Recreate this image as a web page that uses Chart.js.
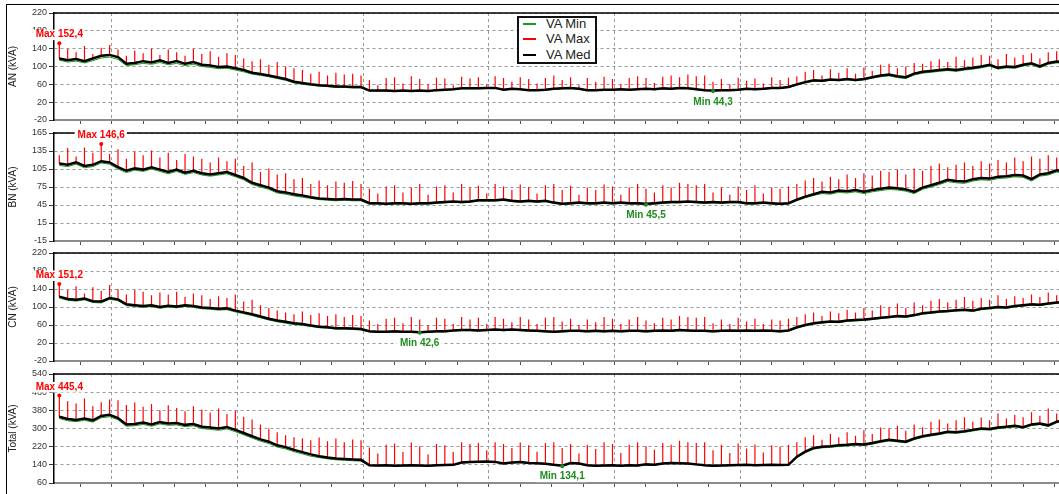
<!DOCTYPE html>
<html>
<head>
<meta charset="utf-8">
<title>VA AN / BN / CN / Total</title>
<script src="https://cdn.jsdelivr.net/npm/chart.js@4.4.1/dist/chart.umd.min.js"></script>
<style>
  html, body { margin: 0; padding: 0; background: #fff; overflow: hidden; }
  #wrap { position: relative; width: 1059px; height: 494px; overflow: hidden; background: #fff; }
  #frame { position: absolute; left: 6px; top: 4px; width: 1200px; height: 700px; border: 1px solid #000; }
  canvas.panel { position: absolute; left: 0; top: 0; }
  #legend { position: absolute; left: 517px; top: 16px; width: 80px; height: 48px; box-sizing: border-box;
            border: 2px solid #111; background: #fff; font: 13px "Liberation Sans", Arial, sans-serif; color: #222; }
  #legend .row { position: absolute; left: 0; height: 14px; line-height: 14px; white-space: nowrap; }
  #legend .row i { position: absolute; left: 4px; top: 6px; width: 13px; height: 2px; }
  #legend .row span { position: absolute; left: 27px; top: 0; }
</style>
</head>
<body>
<div id="wrap">
  <div id="frame"></div>
  <canvas class="panel" id="pAN" width="1068" height="494"></canvas>
  <canvas class="panel" id="pBN" width="1068" height="494"></canvas>
  <canvas class="panel" id="pCN" width="1068" height="494"></canvas>
  <canvas class="panel" id="pTot" width="1068" height="494"></canvas>
  <div id="legend">
    <div class="row" style="top:-1px"><i style="background:#14a014"></i><span>VA Min</span></div>
    <div class="row" style="top:14px"><i style="background:#ff0000"></i><span>VA Max</span></div>
    <div class="row" style="top:30px"><i style="background:#000"></i><span>VA Med</span></div>
  </div>
</div>
<script>
// Logger clock: first reading at 19:10, one reading every 8 minutes (minutes relative to midnight)
const firstSampleMin = -290;
const sampleStepMin = 8;

// Axis tick labels
const anTicks = [-20, 20, 60, 100, 140, 180, 220];
const bnTicks = [-15, 15, 45, 75, 105, 135, 165];
const cnTicks = [-20, 20, 60, 100, 140, 180, 220];
const totalTicks = [60, 140, 220, 300, 380, 460, 540];
const hourTicks = [20, 22, 0, 2, 4, 6, 8, 10];

// Phase AN (kVA)
const anMed = [118,114,117,112,118,124,126,121,106,108,112,109,114,108,112,106,110,104,102,99,100,96,92,86,83,80,76,72,66,63,60,58,57,55,55,54,54,
  46,46,46,45,46,45,46,45,47,48,49,51,51,51,52,52,48,50,49,47,47,48,50,51,52,50,47,47,48,48,49,48,49,50,49,51,50,52,51,49,47,46,47,47,48,50,49,50,52,52,54,
  60,65,69,68,71,70,72,70,72,76,80,82,78,76,84,88,90,92,94,92,95,97,100,104,97,100,99,104,107,100,108,111,110];
const anMin = [114,110,112,108,113,119,121,116,102,104,107,105,109,104,107,102,105,100,98,95,96,92,88,83,80,77,73,69,63,60,58,56,55,53,53,52,52,
  45,45,44.8,44.6,45,44.5,45,44.6,46,47,48,50,50,50,51,51,47,49,48,46,46,47,49,50,51,49,46,46,47,47,48,47,48,49,48,50,49,51,50,48,46,44.3,46,46,47,49,48,49,51,51,53,
  58,63,67,66,69,68,70,68,70,74,77,79,75,73,81,85,87,89,91,89,92,94,97,101,94,97,96,101,104,97,105,108,107];
const anMax = [152.4,140,132,146,128,142,148,138,124,136,130,140,126,138,132,124,140,128,134,122,130,126,118,112,116,104,110,100,96,92,84,88,80,86,82,84,80,
  70,58,74,76,62,78,72,60,75,73,58,77,73,76,60,78,74,66,76,72,62,74,80,70,76,58,74,66,77,72,60,74,78,74,63,77,80,76,82,78,80,66,72,60,75,68,73,62,76,70,75,
  78,88,92,80,94,86,96,84,98,90,104,106,96,100,108,106,112,116,110,122,114,120,126,124,116,128,120,126,130,118,132,134,128];

// Phase BN (kVA)
const bnMed = [114,112,116,110,112,118,116,108,102,106,104,108,104,100,104,99,102,98,96,98,100,95,90,82,78,74,68,66,63,61,58,56,55,54,55,54,54,
  48,48,47,48,48,47,48,48,49,50,51,50,51,53,53,53,54,52,51,52,51,52,49,47,48,49,48,48,49,48,49,48,48,47,48,49,50,50,51,50,49,50,49,50,50,48,48,49,48,47,48,
  54,59,63,67,66,69,68,70,67,70,72,74,73,71,67,74,78,82,87,85,84,88,90,89,92,93,95,94,88,96,98,103,101];
const bnMin = [111,109,113,107,109,115,113,105,99,103,101,105,101,97,101,96,99,95,93,95,97,92,87,79,75,71,65,63,60,58,56,54,53,52,53,52,52,
  46.5,46.5,46,46.5,46.5,46,46.5,46.5,47.5,48.5,49.5,48.5,49.5,51.5,51.5,51.5,52.5,50.5,49.5,50.5,49.5,50.5,47.5,46,46.5,47.5,46.5,46.5,47.5,46.5,47.5,46.5,46.5,45.5,46.5,47.5,48.5,48.5,49.5,48.5,47.5,48.5,47.5,48.5,48.5,46.5,46.5,47.5,46.5,46,46.5,
  52,57,61,64,63,66,65,67,64,67,69,71,70,68,64,71,75,79,84,82,81,85,87,86,89,90,92,91,85,93,95,100,98];
const bnMax = [128,140,126,141,132,146.6,130,138,122,134,128,136,124,132,120,130,126,122,116,124,118,122,110,116,100,106,96,98,88,90,80,86,78,84,82,85,80,
  72,64,76,78,66,74,80,62,76,78,66,80,74,77,64,80,76,70,79,75,64,78,80,70,77,62,74,70,79,76,62,74,80,72,66,78,74,82,80,78,80,66,74,62,76,70,78,64,74,72,76,
  80,86,90,84,92,88,96,90,98,94,102,100,104,96,106,102,110,114,108,112,116,110,118,114,120,116,124,118,126,122,128,124,130];

// Phase CN (kVA)
const cnMed = [123,118,116,119,113,112,120,117,106,104,102,104,100,103,101,104,102,99,98,96,97,92,88,84,79,74,70,67,64,62,59,56,55,53,53,52,51,
  46,45,45,46,45,45,44,45,46,46,48,49,49,48,49,50,49,50,49,48,47,46,45,46,47,47,46,47,46,47,46,47,47,46,47,48,47,49,48,47,47,46,47,48,47,48,47,48,47,46,48,
  55,60,64,66,68,67,70,71,72,74,76,78,80,79,82,86,88,90,91,93,94,92,96,98,100,99,102,104,106,105,108,110,111];
const cnMin = [120,115,113,116,110,109,117,114,103,101,99,101,97,100,98,101,99,96,95,93,94,89,85,81,76,71,67,64,61,59,57,54,53,51,51,50,49,
  44.5,43.5,43.5,44.5,43.5,43.5,42.6,43.5,44.5,44.5,46.5,47.5,47.5,46.5,47.5,48.5,47.5,48.5,47.5,46.5,45.5,44.5,43.5,44.5,45.5,45.5,44.5,45.5,44.5,45.5,44.5,45.5,45.5,44.5,45.5,46.5,45.5,47.5,46.5,45.5,45.5,44.5,45.5,46.5,45.5,46.5,45.5,46.5,45.5,44.5,46.5,
  53,58,62,64,66,65,68,69,70,72,74,76,78,77,80,84,86,88,89,91,92,90,94,96,98,97,100,102,104,103,106,108,109];
const cnMax = [151.2,138,146,130,144,136,149,140,128,138,134,126,132,128,134,122,130,126,118,124,120,128,112,116,104,98,92,88,84,90,82,86,80,84,78,82,80,
  70,62,74,76,64,78,72,60,76,74,62,78,72,76,62,78,74,66,78,72,62,76,78,68,74,60,72,66,78,74,62,72,78,70,64,76,72,80,78,76,78,64,72,62,76,68,74,62,72,70,74,
  78,84,88,80,90,86,94,88,98,92,104,100,108,98,110,104,114,118,110,116,122,114,120,116,126,118,124,120,128,122,132,126,130];

// Total (kVA)
const totMed = [352,342,338,344,336,355,360,346,318,320,326,318,328,322,324,316,320,308,304,300,306,294,280,266,252,242,226,218,206,196,186,178,172,168,166,164,162,
  138,137,138,136,137,138,137,136,138,139,140,150,152,154,155,153,146,150,152,148,147,145,140,136,148,146,138,136,137,138,136,138,137,142,140,146,148,147,146,142,138,136,137,138,139,140,138,139,140,139,140,
  176,198,214,220,222,226,228,232,230,236,244,250,246,242,256,266,272,278,286,284,288,294,300,298,304,308,312,306,318,322,314,330,338];
const totMin = [344,334,330,336,328,347,352,338,310,312,318,310,320,314,316,308,312,300,296,292,298,286,272,258,244,234,218,210,198,188,178,172,166,162,160,158,156,
  136,135,136,134.8,135,136,135,134.6,136,137,138,148,150,152,153,151,144,148,150,146,145,143,138,134.1,146,144,136,134.5,135,136,134.7,136,135,140,138,144,146,145,144,140,136,134.6,135,136,137,138,136,137,138,137,138,
  171,193,209,215,217,221,223,227,225,231,239,245,241,237,251,261,267,273,281,279,283,289,295,293,299,303,307,301,313,317,309,325,333];
const totMax = [445.4,420,410,432,398,416,428,424,404,414,396,408,380,402,390,376,398,384,370,388,364,378,352,340,318,300,284,270,262,256,248,260,244,256,240,252,248,
  216,190,228,234,196,238,222,186,232,226,196,240,232,236,204,240,232,214,238,226,198,236,240,214,232,190,228,210,240,232,192,228,240,222,206,236,228,246,240,236,240,204,228,192,234,212,230,194,226,220,228,
  240,262,270,250,276,262,284,268,292,276,304,300,312,290,318,306,330,340,322,336,350,330,348,336,366,344,360,350,372,356,388,366,380];

const FONT = '"Liberation Sans", Arial, sans-serif';
const CANVAS_W = 1068, CANVAS_H = 494;
const PLOT_LEFT = 54, PLOT_RIGHT = 1066, X_AXIS_H = 6;
const X_MIN_HOUR = -4.918, X_MAX_HOUR = 11.182;

function sampleHour(i) { return (firstSampleMin + i * sampleStepMin) / 60; }
function isWholeHour(v) { return Math.abs(v - Math.round(v)) < 1e-6; }
function hourOfDay(v) { return ((Math.round(v) % 24) + 24) % 24; }
function isLabelledHour(v) { return isWholeHour(v) && hourTicks.includes(hourOfDay(v)); }
function fmtComma(v) { return v.toFixed(1).replace('.', ','); }

// Max trace: each reading is a vertical stroke from the median level up to the maximum
function maxTrace(med, max) {
  const pts = [];
  med.forEach((m, i) => {
    const t = sampleHour(i);
    pts.push({ x: t, y: m }, { x: t, y: max[i] }, { x: t, y: m });
  });
  return pts;
}
function lineTrace(arr) { return arr.map((v, i) => ({ x: sampleHour(i), y: v })); }

// Panel frame top edge plus the labelled extreme readings
const extremesPlugin = {
  id: 'extremes',
  afterDatasetsDraw(chart, args, opts) {
    const ctx = chart.ctx, a = chart.chartArea;
    const xs = chart.scales.x, ys = chart.scales.y;
    ctx.save();
    ctx.strokeStyle = '#000';
    ctx.lineWidth = 1.5;
    ctx.beginPath();
    ctx.moveTo(a.left, a.top);
    ctx.lineTo(a.right + 4, a.top);
    ctx.stroke();

    ctx.font = 'bold 10px ' + FONT;
    ctx.textAlign = 'center';
    ctx.textBaseline = 'middle';
    const marks = [
      { arr: opts.max, high: true, color: '#ff0000', prefix: 'Max ', dy: -8.5 },
      { arr: opts.min, high: false, color: '#1e8c1e', prefix: 'Min ', dy: 10.5 }
    ];
    marks.forEach(m => {
      let k = 0;
      m.arr.forEach((v, i) => { if (m.high ? v > m.arr[k] : v < m.arr[k]) k = i; });
      const px = xs.getPixelForValue(sampleHour(k));
      const py = ys.getPixelForValue(m.arr[k]);
      const txt = m.prefix + fmtComma(m.arr[k]);
      const w = ctx.measureText(txt).width;
      ctx.fillStyle = '#fff';
      ctx.fillRect(px - w / 2 - 3, py + m.dy - 5, w + 5, 10.5);
      ctx.fillStyle = m.color;
      ctx.fillText(txt, px, py + m.dy);
      ctx.beginPath();
      ctx.arc(px, py, 2, 0, Math.PI * 2);
      ctx.fill();
    });
    ctx.restore();
  }
};

const panels = [
  { id: 'pAN',  title: 'AN (kVA)',    med: anMed,  min: anMin,  max: anMax,  ticks: anTicks,    top: 13,  bottom: 120, hours: false },
  { id: 'pBN',  title: 'BN (kVA)',    med: bnMed,  min: bnMin,  max: bnMax,  ticks: bnTicks,    top: 133, bottom: 241, hours: false },
  { id: 'pCN',  title: 'CN (kVA)',    med: cnMed,  min: cnMin,  max: cnMax,  ticks: cnTicks,    top: 253, bottom: 361, hours: false },
  { id: 'pTot', title: 'Total (kVA)', med: totMed, min: totMin, max: totMax, ticks: totalTicks, top: 374, bottom: 483, hours: true }
];

panels.forEach(p => {
  const lineCommon = { pointRadius: 0, tension: 0, fill: false, parsing: false, normalized: true };
  new Chart(document.getElementById(p.id), {
    type: 'line',
    data: {
      datasets: [
        Object.assign({ label: 'VA Med', data: lineTrace(p.med), borderColor: '#000', borderWidth: 2.5, order: 0 }, lineCommon),
        Object.assign({ label: 'VA Max', data: maxTrace(p.med, p.max), borderColor: '#ff0000', borderWidth: 1.2,
                        borderJoinStyle: 'bevel', order: 1 }, lineCommon),
        Object.assign({ label: 'VA Min', data: lineTrace(p.min), borderColor: '#14a014', borderWidth: 1, order: 2 }, lineCommon)
      ]
    },
    options: {
      responsive: false,
      animation: false,
      devicePixelRatio: 1,
      events: [],
      layout: { padding: { top: p.top, bottom: CANVAS_H - p.bottom - X_AXIS_H, left: 0, right: CANVAS_W - PLOT_RIGHT } },
      plugins: {
        legend: { display: false },
        tooltip: { enabled: false },
        extremes: { max: p.max, min: p.min }
      },
      scales: {
        x: {
          type: 'linear',
          min: X_MIN_HOUR,
          max: X_MAX_HOUR,
          afterFit(s) { s.height = X_AXIS_H; },
          ticks: {
            display: p.hours, stepSize: 0.5, includeBounds: false, autoSkip: false, maxRotation: 0, minRotation: 0,
            padding: 1, color: '#333', font: { family: FONT, size: 9 },
            callback: v => isLabelledHour(v) ? hourOfDay(v) + 'h' : ''
          },
          grid: {
            color: c => (c.tick && isLabelledHour(c.tick.value)) ? '#9a9a9a' : 'rgba(0,0,0,0)',
            lineWidth: 1, drawTicks: true, tickLength: 4, tickColor: '#555', tickWidth: 1
          },
          border: { display: true, color: '#8c8c8c', width: 2, dash: [3, 3] }
        },
        y: {
          type: 'linear',
          position: 'left',
          min: p.ticks[0],
          max: p.ticks[p.ticks.length - 1],
          afterFit(s) { s.width = PLOT_LEFT; },
          ticks: { stepSize: p.ticks[1] - p.ticks[0], padding: 2, color: '#333', font: { family: FONT, size: 9 } },
          grid: { color: '#9a9a9a', lineWidth: 1, tickLength: 5, tickColor: '#333' },
          border: { display: true, color: '#000', width: 1.5, dash: [3, 3] },
          title: { display: true, text: p.title, color: '#222', font: { family: FONT, size: 10 }, padding: { top: 7.5, bottom: 0 } }
        }
      }
    },
    plugins: [extremesPlugin]
  });
});
</script>
</body>
</html>
